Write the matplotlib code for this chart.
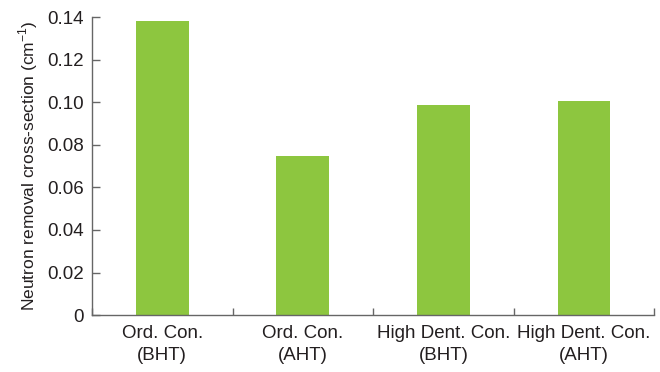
import matplotlib
matplotlib.use("Agg")
import matplotlib.pyplot as plt
import numpy as np

categories = ["Ord. Con.\n(BHT)", "Ord. Con.\n(AHT)", "High Dent. Con.\n(BHT)", "High Dent. Con.\n(AHT)"]
removal_xs = [0.1381, 0.0747, 0.0987, 0.1005]
yticks = [0, 0.02, 0.04, 0.06, 0.08, 0.10, 0.12, 0.14]
ytick_labels = ["0", "0.02", "0.04", "0.06", "0.08", "0.10", "0.12", "0.14"]

plt.rcParams['font.family'] = ['Liberation Sans', 'DejaVu Sans']

fig = plt.figure(figsize=(6.6, 3.72), dpi=100)
ax = fig.add_axes([0.1394, 0.153, 0.852, 0.801])

x = np.arange(len(categories))
ax.bar(x, removal_xs, width=0.376, color="#8dc63f", zorder=2)

ax.set_xlim(-0.5, len(categories) - 0.5)
ax.set_ylim(0, 0.14)
ax.set_yticks(yticks)
ax.set_yticklabels(ytick_labels)

# category labels centred, tick marks on the boundaries between groups
ax.set_xticks(x)
ax.set_xticklabels(categories, linespacing=1.4)
ax.tick_params(axis="x", which="major", length=0, pad=7)
ax.set_xticks(np.arange(-0.5, len(categories)), minor=True)
ax.tick_params(axis="x", which="minor", direction="in", length=5, color="#666666", width=1)
ax.tick_params(axis="y", direction="in", length=6, color="#666666", width=1, pad=6)
ax.tick_params(labelsize=13.5, labelcolor="#231f20")

for side in ["top", "right"]:
    ax.spines[side].set_visible(False)
for side in ["left", "bottom"]:
    ax.spines[side].set_color("#666666")
    ax.spines[side].set_linewidth(1)

ax.set_ylabel("Neutron removal cross-section (cm$^{\\mathregular{-1}}$)", fontsize=12.5,
              color="#231f20", labelpad=5)

fig.savefig("out.png", dpi=100)
